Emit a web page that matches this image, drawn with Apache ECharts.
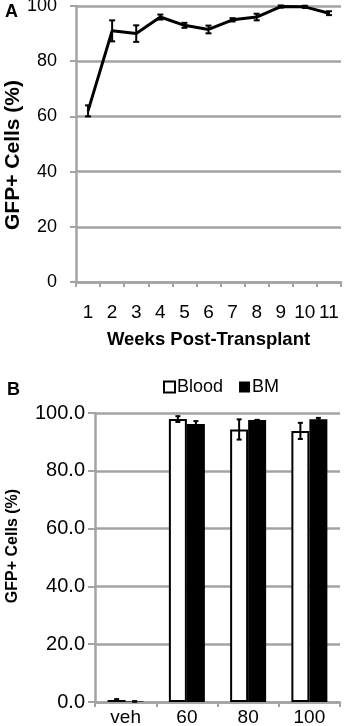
<!DOCTYPE html>
<html>
<head>
<meta charset="utf-8">
<script src="https://cdn.jsdelivr.net/npm/echarts@6/dist/echarts.min.js"></script>
<style>
  html, body { margin: 0; padding: 0; background: #fff; }
  #chart { width: 344px; height: 726px; }
</style>
</head>
<body>
<div id="chart"></div>
<script>
// panel A: GFP+ cells over time
const weeks = ['1', '2', '3', '4', '5', '6', '7', '8', '9', '10', '11'];
const gfpA = [62, 91, 90, 96, 93, 91.5, 95, 96, 99.8, 99.7, 97.4];
const errA = [2, 3.8, 3, 0.9, 0.9, 1.4, 0.6, 1.2, 0.4, 0.4, 0.7];

// panel B: blood vs BM per dose
const groups = ['veh', '60', '80', '100'];
const blood = [0.7, 97.9, 94.3, 93.8];
const bloodErr = [0.3, 1.0, 3.5, 2.8];
const bm = [0.2, 96.2, 97.6, 97.8];
const bmErr = [0.1, 1.0, 0, 0.5];

const ticksA = [0, 20, 40, 60, 80, 100];
const ticksB = [0, 20, 40, 60, 80, 100];

const GREY = '#a3a3a3';
const FONT = 'Liberation Sans, Arial, sans-serif';
const BAR_W = 18;

const chart = echarts.init(document.getElementById('chart'));

function errItem(offset, capHalf) {
  return function (params, api) {
    const x = api.value(0);
    const lo = api.coord([x, api.value(1)]);
    const hi = api.coord([x, api.value(2)]);
    const cx = lo[0] + offset;
    const st = { stroke: '#000', lineWidth: 2 };
    return {
      type: 'group',
      children: [
        { type: 'line', shape: { x1: cx, y1: lo[1], x2: cx, y2: hi[1] }, style: st },
        { type: 'line', shape: { x1: cx - capHalf, y1: lo[1], x2: cx + capHalf, y2: lo[1] }, style: st },
        { type: 'line', shape: { x1: cx - capHalf, y1: hi[1], x2: cx + capHalf, y2: hi[1] }, style: st }
      ]
    };
  };
}

const errDataA = gfpA.map((v, i) => [i, v - errA[i], v + errA[i]]);
const errDataBlood = blood.map((v, i) => [i, v - bloodErr[i], v + bloodErr[i]]);
const errDataBm = bm.map((v, i) => [i, v - bmErr[i], v + bmErr[i]]);

const axisLineStyle = { color: GREY, width: 2.5 };

chart.setOption({
  backgroundColor: '#fff',
  animation: false,
  textStyle: { fontFamily: FONT, color: '#000' },
  title: [
    { text: 'A', left: 5, top: 3, padding: 0, textStyle: { fontFamily: FONT, fontWeight: 'bold', fontSize: 18, color: '#000' } },
    { text: 'B', left: 7, top: 381, padding: 0, textStyle: { fontFamily: FONT, fontWeight: 'bold', fontSize: 18, color: '#000' } }
  ],
  legend: {
    data: ['Blood', 'BM'],
    left: 163, top: 378, padding: 0,
    icon: 'rect',
    itemWidth: 11, itemHeight: 11,
    itemGap: 16,
    textStyle: { fontFamily: FONT, fontSize: 18, color: '#000', padding: [0, 0, 0, -3] }
  },
  grid: [
    { left: 76, top: 6, width: 265, height: 276, outerBoundsMode: 'none' },
    { left: 95, top: 413, width: 245, height: 289, outerBoundsMode: 'none' }
  ],
  xAxis: [
    {
      type: 'category', gridIndex: 0, data: weeks, boundaryGap: true,
      axisLine: { lineStyle: axisLineStyle },
      axisTick: { show: true, length: 5, interval: 0, lineStyle: { color: GREY, width: 2 } },
      axisLabel: { fontSize: 19, color: '#000', margin: 21, interval: 0, fontFamily: FONT },
      name: 'Weeks Post-Transplant', nameLocation: 'middle', nameGap: 48, nameMoveOverlap: false,
      nameTextStyle: { fontFamily: FONT, fontWeight: 'bold', fontSize: 18.5, color: '#000' }
    },
    {
      type: 'category', gridIndex: 1, data: groups, boundaryGap: true,
      axisLine: { lineStyle: axisLineStyle },
      axisTick: { show: true, length: 5, interval: 0, lineStyle: { color: GREY, width: 2 } },
      axisLabel: { fontSize: 19, color: '#000', margin: 6, interval: 0, fontFamily: FONT }
    }
  ],
  yAxis: [
    {
      type: 'value', gridIndex: 0, min: ticksA[0], max: ticksA[ticksA.length - 1], interval: 20,
      axisLine: { show: true, lineStyle: axisLineStyle },
      axisTick: { show: true, length: 6, lineStyle: { color: GREY, width: 2 } },
      splitLine: { lineStyle: { color: GREY, width: 2.5 } },
      axisLabel: { fontSize: 18, color: '#000', margin: 19, fontFamily: FONT },
      name: 'GFP+ Cells (%)', nameLocation: 'middle', nameGap: 52, nameMoveOverlap: false,
      nameTextStyle: { fontFamily: FONT, fontWeight: 'bold', fontSize: 21, color: '#000', padding: [0, 22, 0, 0] }
    },
    {
      type: 'value', gridIndex: 1, min: ticksB[0], max: ticksB[ticksB.length - 1], interval: 20,
      axisLine: { show: true, lineStyle: axisLineStyle },
      axisTick: { show: true, length: 7, lineStyle: { color: GREY, width: 2 } },
      splitLine: { lineStyle: { color: GREY, width: 2.5 } },
      axisLabel: { fontSize: 20, color: '#000', margin: 10, fontFamily: FONT, formatter: v => v.toFixed(1) },
      name: 'GFP+ Cells (%)', nameLocation: 'middle', nameGap: 74, nameMoveOverlap: false,
      nameTextStyle: { fontFamily: FONT, fontWeight: 'bold', fontSize: 16, color: '#000', padding: [0, 0, 0, 23] }
    }
  ],
  series: [
    {
      type: 'line', xAxisIndex: 0, yAxisIndex: 0, data: gfpA,
      symbol: 'none', lineStyle: { color: '#000', width: 3 }, z: 3
    },
    {
      type: 'custom', xAxisIndex: 0, yAxisIndex: 0, data: errDataA,
      renderItem: errItem(0, 3), z: 4
    },
    {
      name: 'Blood', type: 'bar', xAxisIndex: 1, yAxisIndex: 1, data: blood,
      barWidth: BAR_W, barGap: '0%',
      itemStyle: { color: '#fff', borderColor: '#000', borderWidth: 2 }
    },
    {
      name: 'BM', type: 'bar', xAxisIndex: 1, yAxisIndex: 1, data: bm,
      barWidth: BAR_W, barGap: '0%',
      itemStyle: { color: '#000' }
    },
    {
      type: 'custom', xAxisIndex: 1, yAxisIndex: 1, data: errDataBlood,
      renderItem: errItem(-BAR_W / 2, 2.5), z: 4
    },
    {
      type: 'custom', xAxisIndex: 1, yAxisIndex: 1, data: errDataBm,
      renderItem: errItem(BAR_W / 2, 2.5), z: 4
    }
  ]
});
</script>
</body>
</html>
